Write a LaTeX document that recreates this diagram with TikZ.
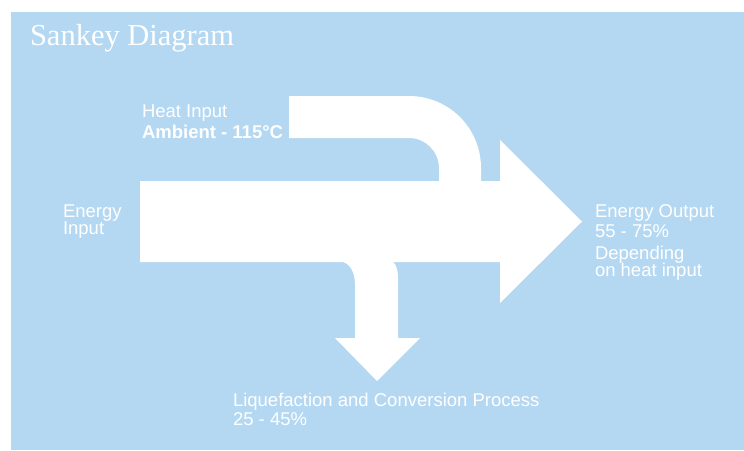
\documentclass[tikz,border=0pt]{standalone}
\usepackage{fontspec}
\setmainfont{Liberation Serif}
\setsansfont{Liberation Sans}
\definecolor{bgblue}{RGB}{180,216,242}
\begin{document}
\begin{tikzpicture}[x=1pt,y=-1pt,
  lbl/.style={text=white,inner sep=0pt,outer sep=0pt,anchor=base west,
    font=\sffamily\fontsize{18.5}{21}\selectfont},
  ttl/.style={text=white,inner sep=0pt,outer sep=0pt,anchor=base west,
    font=\rmfamily\fontsize{30.5}{34}\selectfont},
  flow/.style={fill=white,draw=none}]
\useasboundingbox (0,0) rectangle (744,450);
\fill[white] (0,0) rectangle (744,450);
\fill[bgblue] (11,12) rectangle (744,450);
% heat input band
\fill[flow] (289,96) -- (409,96)
  .. controls (448.8,96) and (481,128.2) .. (481,168)
  -- (481,186) -- (439,186) -- (439,168)
  .. controls (439,151.4) and (425.6,138) .. (409,138)
  -- (289,138) -- cycle;
% main flow with output arrow and down arrow
\fill[flow] (140,181) -- (500,181) -- (500,140) -- (582,221.5) -- (500,303)
  -- (500,262) -- (393,262)
  .. controls (396,264) and (398,270) .. (398,278)
  -- (398,338) -- (420,338) -- (377,381) -- (335,338) -- (355,338)
  -- (355,285)
  .. controls (355,272) and (350,264) .. (343,262)
  -- (140,262) -- cycle;
% texts
\node[ttl] (title) at (30,45) {Sankey Diagram};
\node[lbl] (heat1) at (142,117) {Heat Input};
\node[lbl] (heat2) at (142,138) {\bfseries Ambient - 115°C};
\node[lbl] (ein1) at (63,217) {Energy};
\node[lbl] (ein2) at (63,234) {Input};
\node[lbl] (eout1) at (595,217) {Energy Output};
\node[lbl] (eout2) at (595,237) {55 - 75\%};
\node[lbl] (eout3) at (595,259.5) {Depending};
\node[lbl] (eout4) at (595,276.5) {on heat input};
\node[lbl] (liq1) at (233,406) {Liquefaction and Conversion Process};
\node[lbl] (liq2) at (233,425) {25 - 45\%};
\end{tikzpicture}
\end{document}
